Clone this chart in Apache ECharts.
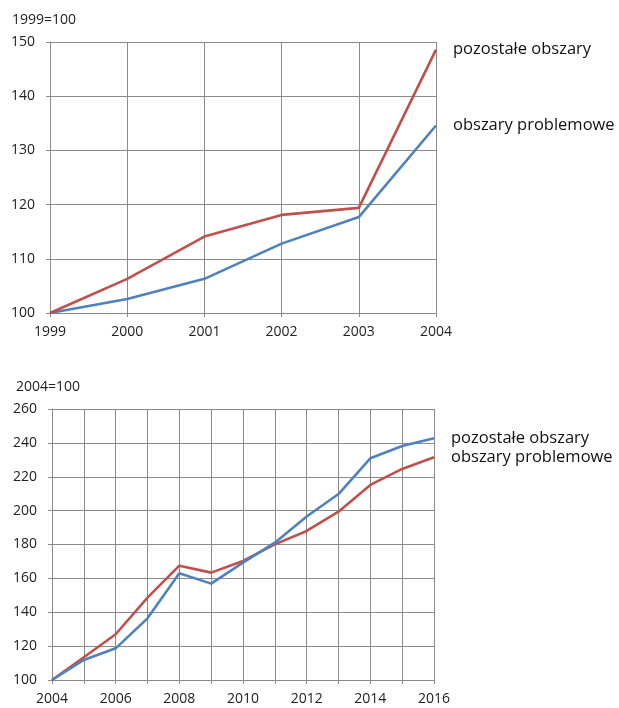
<!DOCTYPE html>
<html>
<head>
<meta charset="utf-8">
<script src="https://cdn.jsdelivr.net/npm/echarts@6/dist/echarts.min.js"></script>
<style>
  html, body { margin: 0; padding: 0; background: #fff; }
  #chart { width: 619px; height: 708px; }
</style>
</head>
<body>
<div id="chart"></div>
<script>
// top chart: 1999=100
var yearsA = ['1999', '2000', '2001', '2002', '2003', '2004'];
var pozostaleA = [100, 106.3, 114.1, 118.1, 119.4, 148.6];
var problemoweA = [100, 102.6, 106.3, 112.8, 117.7, 134.6];

// bottom chart: 2004=100
var yearsB = ['2004', '2005', '2006', '2007', '2008', '2009', '2010', '2011', '2012', '2013', '2014', '2015', '2016'];
var pozostaleB = [100, 111.8, 118.7, 136.4, 163, 156.9, 169.3, 181.1, 196.5, 209.8, 230.9, 238.2, 242.7];
var problemoweB = [100, 113.4, 127, 148.6, 167.5, 163.4, 170.3, 180.1, 188, 199.4, 215.2, 224.6, 231.5];

var RED = '#c0504d';
var BLUE = '#4f81bd';
var GRIDC = '#8a8a8a';
var FONT = '"Open Sans", sans-serif';

var chart = echarts.init(document.getElementById('chart'));

function xAxisOf(idx, data, labelInterval) {
  return {
    type: 'category', gridIndex: idx, data: data, boundaryGap: false,
    axisLine: { lineStyle: { color: GRIDC, width: 1 } },
    axisTick: { show: true, interval: 0, length: 4, lineStyle: { color: GRIDC } },
    axisLabel: { interval: labelInterval, color: '#222', fontSize: 14, fontFamily: FONT, margin: 12 },
    splitLine: { show: true, interval: 0, lineStyle: { color: GRIDC, width: 1 } }
  };
}
function yAxisOf(idx, min, max, step) {
  return {
    type: 'value', gridIndex: idx, min: min, max: max, interval: step,
    axisLine: { show: true, lineStyle: { color: GRIDC, width: 1 } },
    axisTick: { show: true, length: 4, lineStyle: { color: GRIDC } },
    axisLabel: { color: '#222', fontSize: 14, fontFamily: FONT, margin: 15 },
    splitLine: { show: true, lineStyle: { color: GRIDC, width: 1 } }
  };
}
function lineOf(name, idx, data, color) {
  return {
    name: name, type: 'line', xAxisIndex: idx, yAxisIndex: idx, data: data,
    showSymbol: false, symbol: 'none', animation: false,
    lineStyle: { color: color, width: 2.6 },
    itemStyle: { color: color },
    endLabel: { show: true, formatter: '{a}', color: '#111', fontSize: 16.5, fontFamily: FONT, distance: 17 }
  };
}

chart.setOption({
  backgroundColor: '#fff',
  title: [
    { text: '1999=100', left: 7, top: 8, textStyle: { fontSize: 14, fontWeight: 'normal', color: '#222', fontFamily: FONT } },
    { text: '2004=100', left: 11, top: 375, textStyle: { fontSize: 14, fontWeight: 'normal', color: '#222', fontFamily: FONT } }
  ],
  grid: [
    { left: 50, top: 42, width: 386, height: 271 },
    { left: 52, top: 409, width: 382, height: 271 }
  ],
  xAxis: [xAxisOf(0, yearsA, 0), xAxisOf(1, yearsB, 1)],
  yAxis: [yAxisOf(0, 100, 150, 10), yAxisOf(1, 100, 260, 20)],
  series: [
    lineOf('obszary problemowe', 0, problemoweA, BLUE),
    lineOf('pozostałe obszary', 0, pozostaleA, RED),
    lineOf('obszary problemowe', 1, problemoweB, RED),
    lineOf('pozostałe obszary', 1, pozostaleB, BLUE)
  ]
});
</script>
</body>
</html>
